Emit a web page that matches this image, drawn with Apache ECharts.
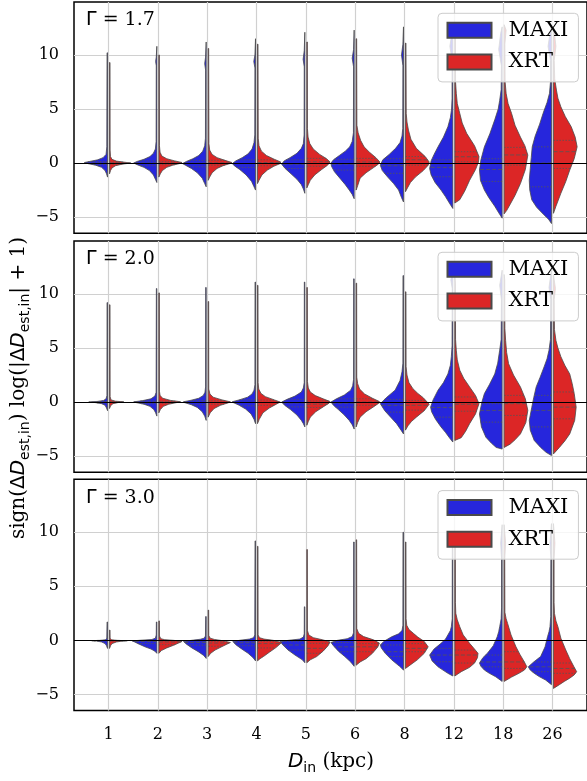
<!DOCTYPE html>
<html><head><meta charset="utf-8">
<script src="https://cdn.jsdelivr.net/npm/echarts@6/dist/echarts.min.js"></script>
<style>html,body{margin:0;padding:0;background:#fff}#chart{width:587px;height:781px}</style>
</head><body><div id="chart"></div><script>
// ---------- data ----------
const categories = ['1','2','3','4','5','6','8','12','18','26'];
const yTicks = [-5, 0, 5, 10];
const gammaValues = ['1.7', '2.0', '3.0'];
const seriesNames = ['MAXI', 'XRT'];

// half-violin profiles: [y, half-width in category units], bottom -> top
const maxiG17 = [
 [[-1.3,0],[-1.0,0.02],[-0.7,0.05],[-0.4,0.12],[-0.2,0.24],[-0.05,0.40],[0.05,0.47],[0.15,0.36],[0.3,0.2],[0.5,0.09],[0.8,0.03],[1.5,0.015],[10.2,0.01],[10.2,0]],
 [[-1.8,0],[-1.5,0.03],[-1.1,0.07],[-0.7,0.15],[-0.4,0.26],[-0.15,0.4],[0,0.47],[0.15,0.4],[0.35,0.26],[0.6,0.14],[0.9,0.07],[1.3,0.03],[2,0.015],[9,0.012],[9.4,0.025],[9.8,0.012],[10.8,0]],
 [[-2.2,0],[-1.9,0.03],[-1.4,0.08],[-0.9,0.18],[-0.5,0.3],[-0.2,0.42],[-0.05,0.48],[0.15,0.4],[0.4,0.27],[0.7,0.15],[1.1,0.07],[1.6,0.03],[2.3,0.015],[8.6,0.012],[9.2,0.03],[9.8,0.012],[11.2,0]],
 [[-2.5,0],[-2.2,0.03],[-1.7,0.08],[-1.1,0.19],[-0.6,0.32],[-0.25,0.43],[-0.05,0.47],[0.2,0.4],[0.5,0.27],[0.85,0.15],[1.3,0.07],[1.9,0.03],[2.6,0.015],[8.8,0.012],[9.4,0.035],[10,0.012],[11.5,0]],
 [[-2.8,0],[-2.4,0.03],[-2.0,0.07],[-1.5,0.16],[-1.0,0.28],[-0.5,0.4],[-0.1,0.47],[0.2,0.42],[0.5,0.3],[0.9,0.16],[1.36,0.07],[1.8,0.03],[2.6,0.015],[8.9,0.012],[9.6,0.035],[10.4,0.012],[12.1,0]],
 [[-3.3,0],[-2.9,0.04],[-2.5,0.1],[-2.0,0.18],[-1.4,0.29],[-0.8,0.4],[-0.3,0.46],[0,0.47],[0.3,0.42],[0.7,0.3],[1.1,0.18],[1.5,0.09],[2.0,0.04],[2.8,0.015],[8.9,0.012],[9.7,0.04],[10.5,0.012],[12.3,0]],
 [[-3.6,0],[-3.2,0.04],[-2.5,0.1],[-1.9,0.2],[-1.3,0.32],[-0.7,0.43],[-0.2,0.47],[0.3,0.42],[0.8,0.29],[1.36,0.16],[1.9,0.07],[2.5,0.03],[3.2,0.015],[9.0,0.012],[10.0,0.04],[11,0.012],[12.6,0]],
 [[-4.2,0],[-3.7,0.07],[-3.1,0.15],[-2.5,0.24],[-1.8,0.36],[-1.1,0.44],[-0.5,0.47],[0.2,0.44],[0.8,0.38],[1.5,0.3],[2.4,0.19],[3.36,0.1],[4.2,0.05],[5.0,0.025],[6,0.015],[9.5,0.015],[10.8,0.06],[12.0,0.02],[12.4,0]],
 [[-5.1,0],[-4.6,0.07],[-4.0,0.15],[-3.2,0.27],[-2.5,0.36],[-1.6,0.44],[-0.65,0.46],[0.3,0.43],[1.5,0.36],[2.7,0.25],[4.0,0.15],[5.0,0.08],[5.8,0.05],[6.8,0.02],[9.0,0.015],[10.5,0.07],[12.0,0.03],[12.6,0]],
 [[-5.6,0],[-5.2,0.06],[-4.8,0.15],[-4.1,0.3],[-3.4,0.4],[-2.5,0.44],[-1.6,0.45],[-0.5,0.43],[0.5,0.41],[1.5,0.39],[2.5,0.33],[3.6,0.24],[4.6,0.17],[5.6,0.09],[6.45,0.04],[7.5,0.02],[9.5,0.02],[10.8,0.07],[12,0.03],[12.6,0]]
];
const xrtG17 = [
 [[-1.0,0],[-0.7,0.02],[-0.45,0.05],[-0.25,0.12],[-0.1,0.26],[0,0.43],[0.08,0.3],[0.18,0.14],[0.34,0.05],[0.6,0.02],[1.2,0.012],[9.3,0.01],[9.3,0]],
 [[-1.3,0],[-1.0,0.03],[-0.7,0.07],[-0.4,0.16],[-0.2,0.28],[-0.05,0.42],[0.05,0.47],[0.2,0.32],[0.4,0.16],[0.65,0.06],[1.0,0.025],[1.6,0.012],[10.0,0.01],[10.0,0]],
 [[-1.6,0],[-1.3,0.03],[-0.9,0.08],[-0.5,0.18],[-0.25,0.3],[-0.05,0.44],[0.05,0.48],[0.25,0.34],[0.5,0.18],[0.8,0.08],[1.2,0.03],[1.8,0.015],[10.6,0.01],[10.6,0]],
 [[-1.9,0],[-1.6,0.03],[-1.1,0.09],[-0.65,0.2],[-0.3,0.33],[-0.05,0.46],[0.1,0.47],[0.35,0.34],[0.7,0.18],[1.1,0.08],[1.6,0.03],[2.3,0.015],[11.0,0.01],[11.0,0]],
 [[-2.3,0],[-2.0,0.03],[-1.6,0.07],[-1.1,0.16],[-0.6,0.3],[-0.2,0.42],[0.1,0.47],[0.4,0.4],[0.8,0.26],[1.3,0.13],[1.8,0.06],[2.4,0.025],[3.2,0.012],[11.2,0.01],[11.2,0]],
 [[-2.5,0],[-2.1,0.03],[-1.4,0.08],[-0.9,0.2],[-0.4,0.36],[-0.1,0.45],[0.1,0.48],[0.5,0.4],[1.0,0.27],[1.5,0.16],[2.1,0.09],[2.8,0.04],[3.5,0.015],[11.5,0.01],[11.5,0]],
 [[-2.65,0],[-2.3,0.04],[-1.8,0.1],[-1.3,0.2],[-0.7,0.36],[-0.2,0.46],[0.1,0.48],[0.6,0.4],[1.36,0.22],[2.2,0.11],[3.05,0.06],[3.8,0.03],[4.6,0.015],[11.1,0.01],[11.1,0]],
 [[-3.7,0],[-3.4,0.1],[-2.6,0.2],[-1.6,0.3],[-0.6,0.42],[0.1,0.48],[0.6,0.49],[1.6,0.4],[2.75,0.24],[3.7,0.15],[4.6,0.1],[5.5,0.05],[6.45,0.03],[7.5,0.015],[11.5,0.012],[12.2,0]],
 [[-4.7,0],[-4.4,0.05],[-4.0,0.1],[-3.0,0.22],[-1.9,0.33],[-0.6,0.43],[0.74,0.48],[1.6,0.42],[2.4,0.33],[3.5,0.22],[4.6,0.15],[5.5,0.08],[6.45,0.04],[7.5,0.02],[11.0,0.015],[12.3,0.04],[12.8,0]],
 [[-4.65,0],[-4.0,0.05],[-2.8,0.15],[-1.7,0.25],[-0.65,0.33],[0.4,0.42],[1.5,0.48],[2.4,0.44],[3.36,0.36],[4.3,0.24],[5.2,0.15],[6.0,0.09],[6.75,0.06],[7.8,0.025],[9.5,0.015],[10.8,0.05],[12,0.02],[12.6,0]]
];
const maxiG20 = [
 [[-0.8,0],[-0.55,0.02],[-0.3,0.05],[-0.15,0.12],[-0.05,0.25],[0,0.38],[0.06,0.2],[0.15,0.08],[0.3,0.03],[0.6,0.012],[9.2,0.01],[9.2,0]],
 [[-1.3,0],[-1.0,0.025],[-0.7,0.06],[-0.4,0.14],[-0.2,0.26],[-0.05,0.42],[0.02,0.47],[0.12,0.3],[0.3,0.12],[0.55,0.04],[0.9,0.015],[10.5,0.01],[10.5,0]],
 [[-1.7,0],[-1.3,0.03],[-0.9,0.08],[-0.5,0.18],[-0.25,0.3],[-0.05,0.44],[0.03,0.46],[0.15,0.32],[0.35,0.15],[0.6,0.06],[0.9,0.025],[1.4,0.012],[10.6,0.01],[10.6,0]],
 [[-2.0,0],[-1.6,0.03],[-1.1,0.09],[-0.65,0.2],[-0.3,0.33],[-0.05,0.45],[0.03,0.47],[0.2,0.33],[0.45,0.16],[0.75,0.07],[1.1,0.03],[1.6,0.012],[11.1,0.01],[11.1,0]],
 [[-2.3,0],[-2.0,0.03],[-1.7,0.07],[-1.2,0.16],[-0.7,0.29],[-0.3,0.41],[0,0.47],[0.25,0.36],[0.55,0.2],[0.93,0.07],[1.3,0.03],[1.8,0.012],[11.1,0.01],[11.1,0]],
 [[-2.5,0],[-2.1,0.04],[-1.7,0.1],[-1.2,0.2],[-0.7,0.32],[-0.3,0.42],[0,0.47],[0.3,0.36],[0.65,0.2],[1.1,0.07],[1.5,0.03],[2.1,0.012],[11.4,0.01],[11.4,0]],
 [[-2.95,0],[-2.6,0.05],[-2.0,0.14],[-1.4,0.26],[-0.8,0.38],[-0.15,0.47],[0.4,0.35],[1.1,0.17],[2.0,0.07],[2.8,0.03],[3.6,0.012],[11.7,0.01],[11.7,0]],
 [[-3.7,0],[-3.3,0.07],[-2.8,0.15],[-2.3,0.24],[-1.6,0.35],[-0.9,0.43],[-0.47,0.45],[0.2,0.4],[1.1,0.3],[1.8,0.19],[2.6,0.1],[3.4,0.05],[4.2,0.03],[5.2,0.015],[10.5,0.012],[11.3,0.04],[12,0]],
 [[-4.35,0],[-4.2,0.12],[-3.8,0.22],[-3.25,0.33],[-2.3,0.42],[-1.1,0.46],[0,0.41],[0.78,0.36],[1.6,0.26],[2.6,0.15],[3.6,0.09],[4.8,0.05],[5.8,0.02],[9.5,0.015],[10.8,0.05],[12.2,0]],
 [[-4.95,0],[-4.65,0.11],[-4.2,0.22],[-3.55,0.35],[-2.6,0.43],[-1.7,0.45],[-0.5,0.4],[0.4,0.36],[1.4,0.31],[2.3,0.23],[3.25,0.15],[4.0,0.09],[4.8,0.05],[5.8,0.02],[9.5,0.015],[10.6,0.05],[11.6,0.02],[12.2,0]]
];
const xrtG20 = [
 [[-0.6,0],[-0.35,0.02],[-0.15,0.07],[-0.04,0.18],[0.02,0.29],[0.08,0.12],[0.2,0.03],[0.5,0.012],[9.0,0.01],[9.0,0]],
 [[-1.0,0],[-0.7,0.03],[-0.4,0.09],[-0.2,0.2],[-0.05,0.36],[0.03,0.44],[0.15,0.24],[0.35,0.08],[0.6,0.025],[1.0,0.012],[10.1,0.01],[10.1,0]],
 [[-1.4,0],[-1.0,0.04],[-0.6,0.12],[-0.3,0.25],[-0.08,0.4],[0.02,0.45],[0.2,0.28],[0.45,0.1],[0.75,0.035],[1.2,0.012],[9.3,0.01],[9.3,0]],
 [[-2.0,0],[-1.6,0.035],[-1.0,0.11],[-0.55,0.24],[-0.2,0.38],[0,0.46],[0.2,0.34],[0.5,0.16],[0.8,0.07],[1.2,0.025],[1.8,0.012],[10.8,0.01],[10.8,0]],
 [[-2.15,0],[-1.8,0.03],[-1.4,0.07],[-0.9,0.18],[-0.45,0.33],[-0.1,0.45],[0.05,0.47],[0.3,0.33],[0.6,0.17],[0.93,0.07],[1.3,0.03],[1.9,0.012],[10.6,0.01],[10.6,0]],
 [[-2.3,0],[-1.9,0.03],[-1.4,0.08],[-0.9,0.2],[-0.45,0.35],[-0.1,0.46],[0.05,0.47],[0.35,0.33],[0.75,0.17],[1.2,0.07],[1.7,0.03],[2.3,0.012],[11.0,0.01],[11.0,0]],
 [[-2.6,0],[-2.2,0.05],[-1.8,0.12],[-1.4,0.22],[-0.8,0.38],[-0.2,0.48],[0.4,0.36],[0.8,0.25],[1.24,0.15],[1.8,0.07],[2.5,0.03],[3.3,0.012],[10.2,0.01],[10.2,0]],
 [[-3.55,0],[-3.3,0.13],[-2.7,0.22],[-2.0,0.3],[-1.1,0.42],[-0.15,0.49],[0.6,0.42],[1.4,0.3],[2.2,0.18],[2.95,0.1],[3.9,0.05],[4.8,0.03],[5.8,0.015],[11.0,0.012],[11.6,0]],
 [[-4.2,0],[-3.9,0.12],[-3.5,0.22],[-2.95,0.33],[-1.9,0.44],[-0.77,0.48],[0.3,0.43],[1.4,0.33],[2.5,0.19],[3.55,0.09],[4.6,0.05],[5.7,0.03],[6.8,0.015],[11.3,0.012],[11.8,0]],
 [[-4.8,0],[-4.2,0.12],[-3.6,0.23],[-2.95,0.33],[-1.7,0.43],[-0.47,0.46],[0.8,0.42],[1.7,0.38],[2.6,0.33],[3.4,0.23],[4.2,0.15],[5.0,0.09],[5.7,0.05],[6.7,0.02],[9.5,0.015],[10.5,0.04],[11.3,0.015],[11.8,0]]
];
const maxiG30 = [
 [[-0.75,0],[-0.5,0.02],[-0.3,0.05],[-0.15,0.12],[-0.07,0.22],[-0.03,0.32],[0,0.15],[0.05,0.04],[0.2,0.015],[1.7,0.01],[1.7,0]],
 [[-1.2,0],[-1.0,0.04],[-0.8,0.12],[-0.6,0.24],[-0.35,0.36],[-0.15,0.45],[-0.05,0.5],[0.02,0.3],[0.08,0.1],[0.2,0.03],[0.5,0.012],[1.7,0.01],[1.7,0]],
 [[-1.67,0],[-1.4,0.05],[-1.05,0.16],[-0.7,0.29],[-0.35,0.4],[-0.1,0.46],[0.0,0.3],[0.1,0.12],[0.2,0.04],[0.4,0.015],[2.2,0.01],[2.2,0]],
 [[-1.9,0],[-1.6,0.05],[-1.2,0.15],[-0.8,0.28],[-0.4,0.4],[-0.1,0.46],[0.02,0.3],[0.12,0.12],[0.25,0.04],[0.5,0.015],[9.2,0.01],[9.2,0]],
 [[-2.07,0],[-1.8,0.05],[-1.36,0.2],[-0.9,0.34],[-0.45,0.44],[-0.1,0.5],[0.02,0.3],[0.12,0.1],[0.3,0.03],[0.6,0.012],[3.1,0.01],[3.1,0]],
 [[-2.4,0],[-2.0,0.07],[-1.5,0.19],[-1.0,0.32],[-0.5,0.42],[-0.2,0.47],[0.0,0.34],[0.15,0.14],[0.35,0.04],[0.7,0.012],[9.1,0.01],[9.1,0]],
 [[-2.75,0],[-2.4,0.08],[-1.8,0.24],[-1.2,0.37],[-0.7,0.45],[-0.43,0.47],[-0.1,0.4],[0.33,0.24],[0.6,0.1],[0.9,0.03],[1.4,0.012],[10.0,0.01],[10.0,0]],
 [[-3.3,0],[-3.05,0.1],[-2.75,0.2],[-2.45,0.3],[-1.9,0.42],[-1.36,0.47],[-0.8,0.38],[-0.28,0.24],[0.1,0.15],[0.5,0.1],[0.9,0.05],[1.26,0.03],[2.0,0.012],[10.0,0.01],[10.0,0]],
 [[-3.8,0],[-3.37,0.13],[-3.05,0.26],[-2.75,0.36],[-2.4,0.43],[-2.1,0.46],[-1.6,0.39],[-1.2,0.3],[-0.5,0.18],[0.33,0.1],[0.8,0.07],[1.26,0.05],[2.0,0.02],[3.0,0.012],[7.5,0.012],[9.0,0.03],[10.7,0]],
 [[-4.1,0],[-3.67,0.12],[-3.35,0.25],[-3.05,0.35],[-2.75,0.43],[-2.45,0.47],[-2.0,0.36],[-1.5,0.22],[-0.6,0.13],[0.33,0.08],[0.8,0.05],[1.26,0.03],[2.2,0.015],[7.5,0.012],[9.0,0.03],[10.8,0]]
];
const xrtG30 = [
 [[-0.75,0],[-0.5,0.02],[-0.3,0.05],[-0.15,0.14],[-0.07,0.26],[-0.04,0.36],[0,0.15],[0.05,0.04],[0.2,0.012],[0.95,0.01],[0.95,0]],
 [[-1.2,0],[-0.95,0.05],[-0.7,0.16],[-0.45,0.3],[-0.25,0.4],[-0.1,0.47],[0.0,0.3],[0.06,0.12],[0.15,0.04],[0.4,0.012],[1.8,0.01],[1.8,0]],
 [[-1.5,0],[-1.2,0.05],[-0.9,0.14],[-0.6,0.27],[-0.35,0.38],[-0.2,0.45],[-0.05,0.32],[0.08,0.13],[0.2,0.04],[0.45,0.012],[2.8,0.01],[2.8,0]],
 [[-1.9,0],[-1.7,0.05],[-1.5,0.12],[-1.1,0.24],[-0.65,0.38],[-0.2,0.49],[0.0,0.32],[0.12,0.13],[0.25,0.04],[0.5,0.012],[8.7,0.01],[8.7,0]],
 [[-2.07,0],[-1.8,0.07],[-1.5,0.2],[-1.0,0.33],[-0.5,0.43],[-0.15,0.47],[0.05,0.32],[0.25,0.13],[0.5,0.04],[0.9,0.012],[8.4,0.01],[8.4,0]],
 [[-2.3,0],[-2.0,0.08],[-1.7,0.2],[-1.2,0.33],[-0.6,0.44],[-0.25,0.47],[0.05,0.35],[0.35,0.15],[0.65,0.05],[1.1,0.012],[9.3,0.01],[9.3,0]],
 [[-2.6,0],[-2.3,0.09],[-1.8,0.24],[-1.2,0.38],[-0.6,0.46],[-0.1,0.38],[0.3,0.25],[0.65,0.16],[1.0,0.07],[1.4,0.025],[2.0,0.012],[9.1,0.01],[9.1,0]],
 [[-3.3,0],[-2.9,0.13],[-2.5,0.3],[-2.1,0.4],[-1.6,0.46],[-1.2,0.47],[-0.7,0.38],[-0.28,0.3],[0.5,0.17],[1.26,0.1],[1.9,0.05],[2.5,0.02],[3.5,0.012],[10.0,0.01],[10.0,0]],
 [[-3.8,0],[-3.4,0.15],[-3.05,0.3],[-2.75,0.41],[-2.45,0.46],[-2.0,0.41],[-1.3,0.32],[-0.6,0.24],[0.5,0.14],[1.57,0.07],[2.0,0.04],[2.6,0.015],[7.5,0.012],[9.0,0.03],[10.7,0]],
 [[-4.45,0],[-4.1,0.12],[-3.8,0.22],[-3.5,0.33],[-3.2,0.42],[-2.9,0.47],[-2.4,0.41],[-1.7,0.33],[-0.9,0.25],[0.2,0.15],[1.26,0.09],[1.8,0.05],[2.5,0.02],[3.5,0.012],[7.5,0.012],[9.0,0.03],[10.8,0]]
];

// quartiles [Q1, median, Q3]
const maxiQuartG17 = [[-0.15,0,0.12],[-0.25,0,0.2],[-0.35,-0.02,0.25],[-0.4,-0.05,0.3],[-0.5,-0.1,0.3],[-0.65,-0.1,0.35],[-0.95,-0.25,0.4],[-1.27,-0.4,0.3],[-1.7,-0.6,0.4],[-2.2,0,1.5]];
const xrtQuartG17 = [[-0.1,0,0.08],[-0.15,0,0.15],[-0.2,0.02,0.25],[-0.25,0.05,0.3],[-0.3,0.12,0.43],[-0.3,0.1,0.43],[-0.2,0.3,0.6],[0.12,0.58,1.05],[-0.2,0.75,1.45],[-0.5,1.05,2.1]];
const maxiQuartG20 = [[-0.08,0,0.05],[-0.15,0,0.1],[-0.25,-0.02,0.15],[-0.35,-0.03,0.2],[-0.45,-0.08,0.25],[-0.47,-0.1,0.3],[-0.93,-0.3,0.25],[-1.4,-0.5,0.0],[-1.86,-0.77,-0.15],[-2.3,-0.77,0.62]];
const xrtQuartG20 = [[-0.05,0,0.04],[-0.12,0,0.08],[-0.2,-0.02,0.12],[-0.3,-0.03,0.18],[-0.5,-0.2,0.1],[-0.3,0.0,0.3],[-0.75,-0.3,0.15],[-0.85,-0.2,0.47],[-1.24,-0.15,0.62],[-1.55,-0.47,0.93]];
const maxiQuartG30 = [[-0.05,-0.03,-0.01],[-0.3,-0.1,-0.03],[-0.45,-0.2,-0.07],[-0.5,-0.22,-0.07],[-0.9,-0.43,-0.12],[-1.05,-0.6,-0.2],[-1.5,-1.05,-0.43],[-1.98,-1.36,-0.74],[-2.45,-2.0,-1.36],[-2.9,-2.45,-2.0]];
const xrtQuartG30 = [[-0.06,-0.04,-0.01],[-0.4,-0.15,-0.05],[-0.55,-0.25,-0.1],[-0.7,-0.3,-0.1],[-1.2,-0.74,-0.28],[-1.05,-0.6,-0.3],[-1.05,-0.74,-0.3],[-2.1,-1.36,-0.9],[-2.6,-2.0,-1.05],[-3.05,-2.6,-2.1]];

// ---------- chart ----------
const BLUE = '#2626dc', RED = '#dc2626', EDGE = '#4a4a4a';
const SERIF = "'DejaVu Serif', serif", SANS = "'DejaVu Sans', sans-serif";
const GAP = 1.0; // px half-gap between split halves
const panels = [
  {g: gammaValues[0], maxi: maxiG17, xrt: xrtG17, qm: maxiQuartG17, qx: xrtQuartG17},
  {g: gammaValues[1], maxi: maxiG20, xrt: xrtG20, qm: maxiQuartG20, qx: xrtQuartG20},
  {g: gammaValues[2], maxi: maxiG30, xrt: xrtG30, qm: maxiQuartG30, qx: xrtQuartG30}
];
const gridTops = [2, 241, 479.3];
const gridH = 231.3;

function interpW(prof, y) {
  for (let j = 0; j < prof.length - 1; j++) {
    const a = prof[j], b = prof[j + 1];
    if (y >= a[0] && y <= b[0]) {
      if (b[0] === a[0]) return Math.max(a[1], b[1]);
      return a[1] + (b[1] - a[1]) * (y - a[0]) / (b[0] - a[0]);
    }
  }
  return 0;
}

function makeRender(profiles, quarts, sign, color) {
  return function (params, api) {
    const i = api.value(0);
    const prof = profiles[i];
    const c0 = api.coord([i, 0]);
    const cx = c0[0] + sign * GAP;
    const sx = api.size([1, 0])[0];
    const pts = prof.map(function (p) {
      const c = api.coord([i, p[0]]);
      return [cx + sign * p[1] * sx, c[1]];
    });
    const children = [{
      type: 'polygon', shape: {points: pts},
      style: {fill: color, stroke: EDGE, lineWidth: 0.8}
    }];
    quarts[i].forEach(function (q, k) {
      const w = interpW(prof, q);
      const y = api.coord([i, q])[1];
      children.push({
        type: 'line',
        shape: {x1: cx, y1: y, x2: cx + sign * w * sx, y2: y},
        style: {stroke: '#555', lineWidth: 0.8, lineDash: k === 1 ? [4, 2] : [1.5, 1.5]}
      });
    });
    return {type: 'group', children: children};
  };
}

const fmtNum = v => (v < 0 ? '\u2212' + (-v) : String(v));
const grids = [], xAxes = [], yAxes = [], series = [], legends = [], graphics = [];
const catIdx = categories.map((c, i) => i);

panels.forEach(function (p, k) {
  grids.push({left: 74, top: gridTops[k], width: 514, height: gridH, show: true,
    borderColor: '#000', borderWidth: 1.5, backgroundColor: 'transparent', containLabel: false});
  xAxes.push({type: 'value', gridIndex: k, min: -0.7, max: 9.7,
    axisLine: {show: false}, splitLine: {show: false},
    axisTick: {show: true, customValues: catIdx, length: 5, lineStyle: {color: '#000', width: 1}},
    axisLabel: {show: k === 2, customValues: catIdx, formatter: v => categories[Math.round(v)],
      fontFamily: SERIF, fontSize: 16, color: '#000', margin: 16}});
  yAxes.push({type: 'value', gridIndex: k, min: -6.5, max: 14.9,
    axisLine: {show: false}, splitLine: {show: false},
    axisTick: {show: true, customValues: yTicks, length: 5, lineStyle: {color: '#000', width: 1}},
    axisLabel: {show: true, customValues: yTicks, formatter: fmtNum,
      fontFamily: SERIF, fontSize: 16, color: '#000', margin: 15}});
  // grid lines
  series.push({type: 'line', xAxisIndex: k, yAxisIndex: k, data: [], silent: true, z: 1,
    markLine: {z: 1, silent: true, symbol: 'none', animation: false, label: {show: false},
      lineStyle: {color: '#d0d0d0', width: 1.2, type: 'solid'},
      emphasis: {disabled: true},
      data: catIdx.map(i => ({xAxis: i})).concat(yTicks.map(v => ({yAxis: v})))}});
  series.push({type: 'custom', name: seriesNames[0], xAxisIndex: k, yAxisIndex: k, z: 3,
    itemStyle: {color: BLUE, borderColor: EDGE, borderWidth: 0.8},
    renderItem: makeRender(p.maxi, p.qm, -1, BLUE),
    data: catIdx.map(i => [i, p.qm[i][1]])});
  series.push({type: 'custom', name: seriesNames[1], xAxisIndex: k, yAxisIndex: k, z: 3,
    itemStyle: {color: RED, borderColor: EDGE, borderWidth: 0.8},
    renderItem: makeRender(p.xrt, p.qx, 1, RED),
    data: catIdx.map(i => [i, p.qx[i][1]])});
  // zero line
  series.push({type: 'line', xAxisIndex: k, yAxisIndex: k, data: [], silent: true, z: 4,
    markLine: {z: 4, silent: true, symbol: 'none', animation: false, label: {show: false},
      lineStyle: {color: '#000', width: 1.2, type: 'solid'},
      emphasis: {disabled: true},
      data: [{yAxis: 0}]}});
  legends.push({data: seriesNames, left: 438, top: gridTops[k] + 11.3, orient: 'vertical', z: 10,
    padding: [6, 10, 9, 8.5], itemWidth: 44, itemHeight: 15, itemGap: 9.6, icon: 'rect',
    backgroundColor: 'rgba(255,255,255,0.8)', borderColor: '#cccccc', borderWidth: 1, borderRadius: 4,
    textStyle: {fontFamily: SERIF, fontSize: 21, color: '#000', lineHeight: 22, padding: [0, 0, 0, 12]}});
  graphics.push({type: 'text', left: 86, top: gridTops[k] + 9, z: 20,
    style: {text: '{g|\u0393}{t| = ' + p.g + '}',
      rich: {g: {fontFamily: SANS, fontSize: 19, fill: '#000'}, t: {fontFamily: SERIF, fontSize: 19, fill: '#000'}}}});
});

// axis titles
graphics.push({type: 'text', x: 19, y: 388, rotation: Math.PI / 2, z: 20,
  style: {text: '{a|sign(}{b|\u0394}{c|D}{d|est,in}{a|) log(|}{b|\u0394}{c|D}{d|est,in}{a|| + 1)}',
    align: 'center', verticalAlign: 'middle',
    rich: {
      a: {fontFamily: SERIF, fontSize: 20, lineHeight: 26, fill: '#000', verticalAlign: 'middle'},
      b: {fontFamily: SANS, fontSize: 20, lineHeight: 26, fill: '#000', verticalAlign: 'middle'},
      c: {fontFamily: SANS, fontStyle: 'italic', fontSize: 20, lineHeight: 26, fill: '#000', verticalAlign: 'middle'},
      d: {fontFamily: SANS, fontSize: 14, lineHeight: 14, fill: '#000', verticalAlign: 'bottom'}
    }}});
graphics.push({type: 'text', x: 331, y: 762, z: 20,
  style: {text: '{c|D}{d|in}{a| (kpc)}', align: 'center', verticalAlign: 'middle',
    rich: {
      a: {fontFamily: SERIF, fontSize: 20, lineHeight: 26, fill: '#000', verticalAlign: 'middle'},
      c: {fontFamily: SANS, fontStyle: 'italic', fontSize: 20, lineHeight: 26, fill: '#000', verticalAlign: 'middle'},
      d: {fontFamily: SANS, fontSize: 14, lineHeight: 14, fill: '#000', verticalAlign: 'bottom'}
    }}});

const chart = echarts.init(document.getElementById('chart'), null, {renderer: 'canvas'});
chart.setOption({
  animation: false,
  backgroundColor: '#fff',
  grid: grids, xAxis: xAxes, yAxis: yAxes,
  legend: legends, series: series, graphic: graphics
});
</script></body></html>
